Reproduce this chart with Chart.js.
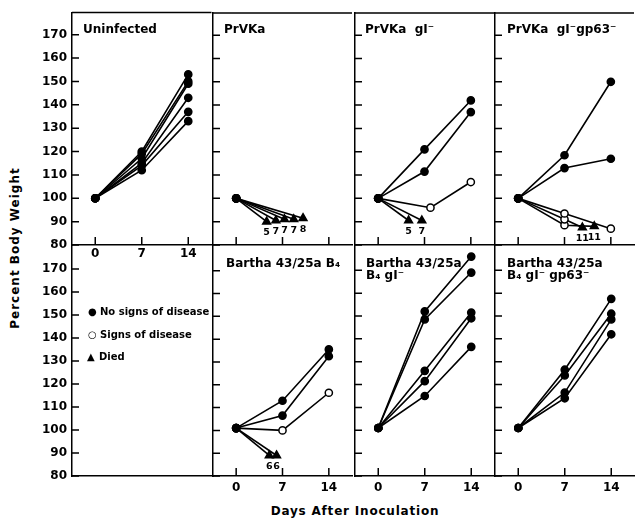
<!DOCTYPE html>
<html>
<head>
<meta charset="utf-8">
<script src="https://cdn.jsdelivr.net/npm/chart.js@4.4.0/dist/chart.umd.min.js"></script>
<style>
  html, body { margin: 0; background: #fff; overflow: hidden; }
  #fig { position: relative; width: 636px; height: 518px; overflow: hidden;
         font-family: "DejaVu Sans", sans-serif; font-weight: bold; color: #000; }
  #fig canvas { position: absolute; }
  .ttl { position: absolute; font-size: 12px; line-height: 12px; white-space: nowrap; }
  .leg { position: absolute; font-size: 10px; line-height: 12px; white-space: nowrap; }
  .leg span { display: inline-block; width: 12px; font-size: 10px; }
  #ylab { position: absolute; left: 15px; top: 248px; font-size: 12px; letter-spacing: 1px;
          white-space: nowrap; transform: translate(-50%, -50%) rotate(-90deg); }
  #xlab { position: absolute; left: 355px; top: 511px; font-size: 12px; letter-spacing: 0.8px;
          white-space: nowrap; transform: translate(-50%, -50%); }
</style>
</head>
<body>
<div id="fig">
  <canvas id="p1"></canvas><canvas id="p2"></canvas><canvas id="p3"></canvas><canvas id="p4"></canvas>
  <canvas id="p5"></canvas><canvas id="p6"></canvas><canvas id="p7"></canvas><canvas id="p8"></canvas>

  <div class="ttl" style="left:83px;top:23px">Uninfected</div>
  <div class="ttl" style="left:224px;top:23px">PrVKa</div>
  <div class="ttl" style="left:365px;top:23px">PrVKa&nbsp; gI⁻</div>
  <div class="ttl" style="left:507px;top:23px">PrVKa&nbsp; gI⁻gp63⁻</div>
  <div class="ttl" style="left:226px;top:257px">Bartha 43/25a B₄</div>
  <div class="ttl" style="left:366px;top:257px">Bartha 43/25a<br>B₄ gI⁻</div>
  <div class="ttl" style="left:507px;top:257px">Bartha 43/25a<br>B₄ gI⁻ gp63⁻</div>

  <div class="leg" style="left:88px;top:306px"><span>●</span>No signs of disease</div>
  <div class="leg" style="left:88px;top:329px"><span>○</span>Signs of disease</div>
  <div class="leg" style="left:87px;top:351px"><span>▲</span>Died</div>

  <div id="ylab">Percent Body Weight</div>
  <div id="xlab">Days After Inoculation</div>
</div>
<script>
// ticks
const xTicks = [0, 7, 14];
const yTicks = [80, 90, 100, 110, 120, 130, 140, 150, 160, 170];

// each line: [day, percent body weight]; marks per point: f = no signs, o = signs, d = died
const uninfected = [
  [[0, 100], [7, 120], [14, 153]],
  [[0, 100], [7, 119], [14, 150]],
  [[0, 100], [7, 117], [14, 149]],
  [[0, 100], [7, 115], [14, 143]],
  [[0, 100], [7, 114], [14, 137]],
  [[0, 100], [7, 112], [14, 133]],
];
const uninfectedMarks = ["fff", "fff", "fff", "fff", "fff", "fff"];

const prvka = [
  [[0, 100], [4.6, 90]],
  [[0, 100], [6.0, 90.5]],
  [[0, 100], [7.3, 91]],
  [[0, 100], [8.7, 91]],
  [[0, 100], [10.1, 91.5]],
];
const prvkaMarks = ["fd", "fd", "fd", "fd", "fd"];
const prvkaDied = ["5", "7", "7", "7", "8"];

const prvkaGI = [
  [[0, 100], [7, 121], [14, 142]],
  [[0, 100], [7, 111.5], [14, 137]],
  [[0, 100], [7.9, 96], [14, 107]],
  [[0, 100], [4.6, 90.5]],
  [[0, 100], [6.6, 90.5]],
];
const prvkaGIMarks = ["fff", "fff", "foo", "fd", "fd"];
const prvkaGIDied = ["", "", "", "5", "7"];

const prvkaGIgp63 = [
  [[0, 100], [7, 118.5], [14, 150]],
  [[0, 100], [7, 113], [14, 117]],
  [[0, 100], [7, 93.5], [14, 87]],
  [[0, 100], [7, 91], [9.7, 87.5]],
  [[0, 100], [7, 88.5], [11.5, 88]],
];
const prvkaGIgp63Marks = ["fff", "fff", "ooo", "ood", "ood"];
const prvkaGIgp63Died = ["", "", "", "11", "11"];

const barthaB4 = [
  [[0, 101], [7, 113], [14, 135.5]],
  [[0, 101], [7, 106.5], [14, 132.5]],
  [[0, 101], [7, 100], [14, 116.5]],
  [[0, 101], [5.0, 89]],
  [[0, 101], [6.1, 89]],
];
const barthaB4Marks = ["fff", "fff", "foo", "fd", "fd"];
const barthaB4Died = ["", "", "", "6", "6"];

const barthaGI = [
  [[0, 101], [7, 152], [14, 176]],
  [[0, 101], [7, 148.5], [14, 169]],
  [[0, 101], [7, 126], [14, 151.5]],
  [[0, 101], [7, 121.5], [14, 149]],
  [[0, 101], [7, 115], [14, 136.5]],
];
const barthaGIMarks = ["fff", "fff", "fff", "fff", "fff"];

const barthaGIgp63 = [
  [[0, 101], [7, 126.5], [14, 157.5]],
  [[0, 101], [7, 124], [14, 151]],
  [[0, 101], [7, 116.5], [14, 148.5]],
  [[0, 101], [7, 114], [14, 142]],
];
const barthaGIgp63Marks = ["fff", "fff", "fff", "fff"];

// layout of the panel grid (px)
const COLS = [72, 213, 355, 495];
const ROWS = [{ top: 11, h: 234, max: 179.5 }, { top: 245, h: 231, max: 180.4 }];
const PW = 141, L = 44, R = 4, T = 4, B = 22;
const FONT = { family: "DejaVu Sans", size: 12, weight: "bold" };

// frame top line, inward tick marks, day-of-death labels
const frame = {
  id: "frame",
  afterDraw(chart, args, o) {
    const { ctx, chartArea: a } = chart;
    const x = chart.scales.x, y = chart.scales.y;
    ctx.save();
    ctx.strokeStyle = "#000";
    ctx.lineWidth = 1.5;
    ctx.beginPath();
    if (o.top) { ctx.moveTo(a.left, a.top); ctx.lineTo(a.right, a.top); }
    y.ticks.forEach((t) => {
      const py = y.getPixelForValue(t.value);
      ctx.moveTo(a.left, py); ctx.lineTo(a.left + 7, py);
    });
    if (o.xTicks) x.ticks.forEach((t) => {
      const px = x.getPixelForValue(t.value);
      ctx.moveTo(px, a.bottom); ctx.lineTo(px, a.bottom - 8);
    });
    ctx.stroke();
    ctx.fillStyle = "#000";
    ctx.font = 'bold 9.5px "DejaVu Sans"';
    ctx.textAlign = "center";
    ctx.textBaseline = "middle";
    chart.data.datasets.forEach((ds, i) => {
      if (!ds.died) return;
      const pts = chart.getDatasetMeta(i).data;
      const p = pts[pts.length - 1];
      ctx.fillText(ds.died, p.x, p.y + 11);
    });
    ctx.restore();
  },
};

function datasets(lines, marks, died) {
  return lines.map((pts, i) => {
    const m = [...marks[i]];
    return {
      data: pts.map(([x, y]) => ({ x, y })),
      borderColor: "#000",
      borderWidth: 1.6,
      pointStyle: m.map((c) => (c === "d" ? "triangle" : "circle")),
      pointRadius: m.map((c) => (c === "d" ? 4.5 : 3.6)),
      pointBackgroundColor: m.map((c) => (c === "o" ? "#fff" : "#000")),
      pointBorderColor: "#000",
      pointBorderWidth: 1.5,
      died: (died && died[i]) || "",
    };
  });
}

function noPad(s) {
  s.paddingTop = 0; s.paddingBottom = 0; s.paddingLeft = 0; s.paddingRight = 0;
}

function panel(id, row, col, lines, marks, died, xTickMarks, xLabels) {
  const r = ROWS[row];
  const el = document.getElementById(id);
  el.width = PW + L + R;
  el.height = r.h + T + B;
  el.style.left = COLS[col] - L + "px";
  el.style.top = r.top - T + "px";
  new Chart(el, {
    type: "line",
    data: { datasets: datasets(lines, marks, died) },
    options: {
      responsive: false,
      animation: false,
      layout: { padding: { top: T, right: R, left: 0, bottom: 0 } },
      plugins: {
        legend: { display: false },
        tooltip: { enabled: false },
        frame: { top: row === 0, xTicks: xTickMarks },
      },
      scales: {
        x: {
          type: "linear",
          min: -3.5,
          max: 17.5,
          afterBuildTicks: (s) => { s.ticks = xTicks.map((v) => ({ value: v })); },
          afterFit: (s) => { s.height = B; noPad(s); },
          ticks: { display: xLabels, font: FONT, color: "#000", padding: row === 0 ? 2 : 5 },
          grid: { display: false, drawTicks: false },
          border: { display: true, color: "#000", width: 1.5 },
        },
        y: {
          type: "linear",
          min: 80,
          max: r.max,
          afterBuildTicks: (s) => { s.ticks = yTicks.map((v) => ({ value: v })); },
          afterFit: (s) => { s.width = L; noPad(s); },
          ticks: { display: col === 0, font: FONT, color: "#000", padding: 5 },
          grid: { display: false, drawTicks: false },
          border: { display: true, color: "#000", width: 1.5 },
        },
      },
    },
    plugins: [frame],
  });
}

panel("p1", 0, 0, uninfected, uninfectedMarks, null, true, true);
panel("p2", 0, 1, prvka, prvkaMarks, prvkaDied, true, false);
panel("p3", 0, 2, prvkaGI, prvkaGIMarks, prvkaGIDied, true, false);
panel("p4", 0, 3, prvkaGIgp63, prvkaGIgp63Marks, prvkaGIgp63Died, true, false);
panel("p5", 1, 0, [], [], null, false, false);
panel("p6", 1, 1, barthaB4, barthaB4Marks, barthaB4Died, true, true);
panel("p7", 1, 2, barthaGI, barthaGIMarks, null, true, true);
panel("p8", 1, 3, barthaGIgp63, barthaGIgp63Marks, null, true, true);
</script>
</body>
</html>
